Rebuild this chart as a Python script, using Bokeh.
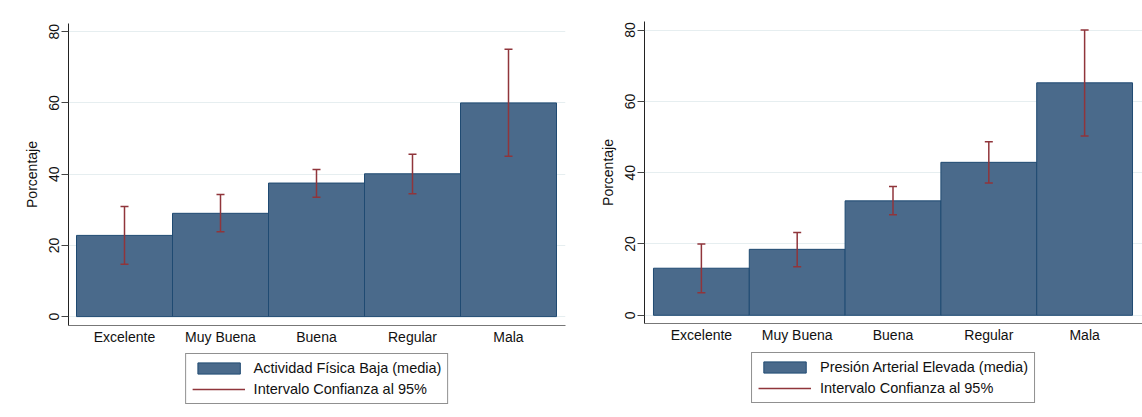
from bokeh.plotting import figure
from bokeh.models import Range1d, FixedTicker, Legend, LegendItem, ColumnDataSource
from bokeh.layouts import row, column
from bokeh.embed import file_html
from bokeh.resources import INLINE

categorias = ["Excelente", "Muy Buena", "Buena", "Regular", "Mala"]
ticks_y = [0, 20, 40, 60, 80]

af_media = [22.8, 29.0, 37.5, 40.1, 60.0]
af_inf = [14.7, 23.8, 33.5, 34.5, 45.0]
af_sup = [30.9, 34.3, 41.3, 45.6, 75.1]

pa_media = [13.2, 18.5, 32.1, 42.9, 65.2]
pa_inf = [6.3, 13.6, 28.2, 37.1, 50.3]
pa_sup = [20.0, 23.2, 36.1, 48.7, 80.0]

FONT = "Liberation Sans"
BAR_FILL = "#4a6a8b"
BAR_LINE = "#1f4a72"
CI = "#90353b"
TOTAL_H = 417


def bar_style():
    return dict(fill_color=BAR_FILL, line_color=BAR_LINE, line_width=1)


def ci_style():
    return dict(line_color=CI, line_width=1.5)


def panel(media, inf, sup, label, width, border_left, border_right, border_top,
          frame_h, y0, y1, x0, x1, leg_gap):
    xs = list(range(len(categorias)))
    src = ColumnDataSource(dict(x=xs, media=media, inf=inf, sup=sup))
    axis_h = 20
    main_h = border_top + frame_h + axis_h
    p = figure(width=width, height=main_h, output_backend="svg", toolbar_location=None,
               x_range=Range1d(x0, x1), y_range=Range1d(y0, y1),
               min_border_left=border_left, min_border_right=border_right,
               min_border_top=border_top, min_border_bottom=axis_h,
               background_fill_color="white", border_fill_color="white")
    p.outline_line_color = None
    p.vbar(x="x", top="media", bottom=0, width=1.0, source=src, **bar_style())
    p.segment(x0="x", y0="inf", x1="x", y1="sup", source=src, **ci_style())
    p.scatter(x="x", y="sup", source=src, marker="dash", size=8, **ci_style())
    p.scatter(x="x", y="inf", source=src, marker="dash", size=8, **ci_style())

    # axes
    p.xaxis.ticker = FixedTicker(ticks=xs)
    p.xaxis.major_label_overrides = {i: c for i, c in enumerate(categorias)}
    p.xaxis.major_tick_out = 0
    p.xaxis.major_tick_in = 0
    p.xaxis.minor_tick_out = 0
    p.xaxis.minor_tick_in = 0
    p.xaxis.major_label_standoff = 3
    p.xaxis.axis_line_color = "#777777"

    p.yaxis.ticker = FixedTicker(ticks=ticks_y)
    p.yaxis.major_label_orientation = "vertical"
    p.yaxis.major_tick_out = 7
    p.yaxis.major_tick_in = 0
    p.yaxis.minor_tick_out = 0
    p.yaxis.minor_tick_in = 0
    p.yaxis.major_label_standoff = 2
    p.yaxis.axis_label = "Porcentaje"
    p.yaxis.axis_label_standoff = 7
    p.yaxis.axis_line_color = "#222222"
    p.yaxis.major_tick_line_color = "#444444"

    for ax in (p.xaxis, p.yaxis):
        ax.major_label_text_font = FONT
        ax.major_label_text_font_size = "14px"
        ax.major_label_text_color = "#111111"
        ax.axis_label_text_font = FONT
        ax.axis_label_text_font_size = "14px"
        ax.axis_label_text_font_style = "normal"
        ax.axis_label_text_color = "#111111"

    p.xgrid.grid_line_color = None
    p.ygrid.grid_line_color = "#e6eef0"
    p.ygrid.grid_line_width = 1

    # legend figure below the chart, its frame aligned with the chart frame;
    # its glyphs reuse the data but its ranges keep them out of view
    leg_h = TOTAL_H - main_h
    q = figure(width=width, height=leg_h, output_backend="svg", toolbar_location=None,
               x_axis_location=None, y_axis_location=None,
               x_range=Range1d(1000, 1001), y_range=Range1d(1000, 1001),
               min_border_left=border_left, min_border_right=border_right,
               min_border_top=0, min_border_bottom=0,
               background_fill_color="white", border_fill_color="white")
    q.outline_line_color = None
    q.grid.visible = False
    lb = q.vbar(x="x", top="media", bottom=0, width=1.0, source=src, **bar_style())
    ls = q.segment(x0="x", y0="inf", x1="x", y1="sup", source=src, **ci_style())
    legend = Legend(items=[LegendItem(label=label, renderers=[lb]),
                           LegendItem(label="Intervalo Confianza al 95%", renderers=[ls])],
                    location="top", orientation="vertical")
    legend.label_text_font = FONT
    legend.label_text_font_size = "14.5px"
    legend.label_text_color = "#111111"
    legend.glyph_width = 53
    legend.glyph_height = 14
    legend.label_height = 16
    legend.label_standoff = 9
    legend.padding = 6
    legend.spacing = 5
    legend.margin = leg_gap
    legend.border_line_color = "#222222"
    legend.border_line_width = 1
    legend.background_fill_color = "white"
    legend.background_fill_alpha = 1.0
    q.add_layout(legend, "center")
    return column(p, q, spacing=0)


c1 = panel(af_media, af_inf, af_sup, "Actividad Física Baja (media)",
           width=583, border_left=68, border_right=18, border_top=23, frame_h=304,
           y0=-2.5, y1=82.3, x0=-0.5 - 8 / 96, x1=4.5 + 9 / 96, leg_gap=6)
c2 = panel(pa_media, pa_inf, pa_sup, "Presión Arterial Elevada (media)",
           width=559, border_left=61, border_right=0, border_top=21, frame_h=304,
           y0=-2.3, y1=82.4, x0=-0.5 - 9 / 96, x1=4.5 + 10 / 96, leg_gap=7)

layout = row(c1, c2, spacing=0)
open("out.html", "w").write(file_html(layout, INLINE))
